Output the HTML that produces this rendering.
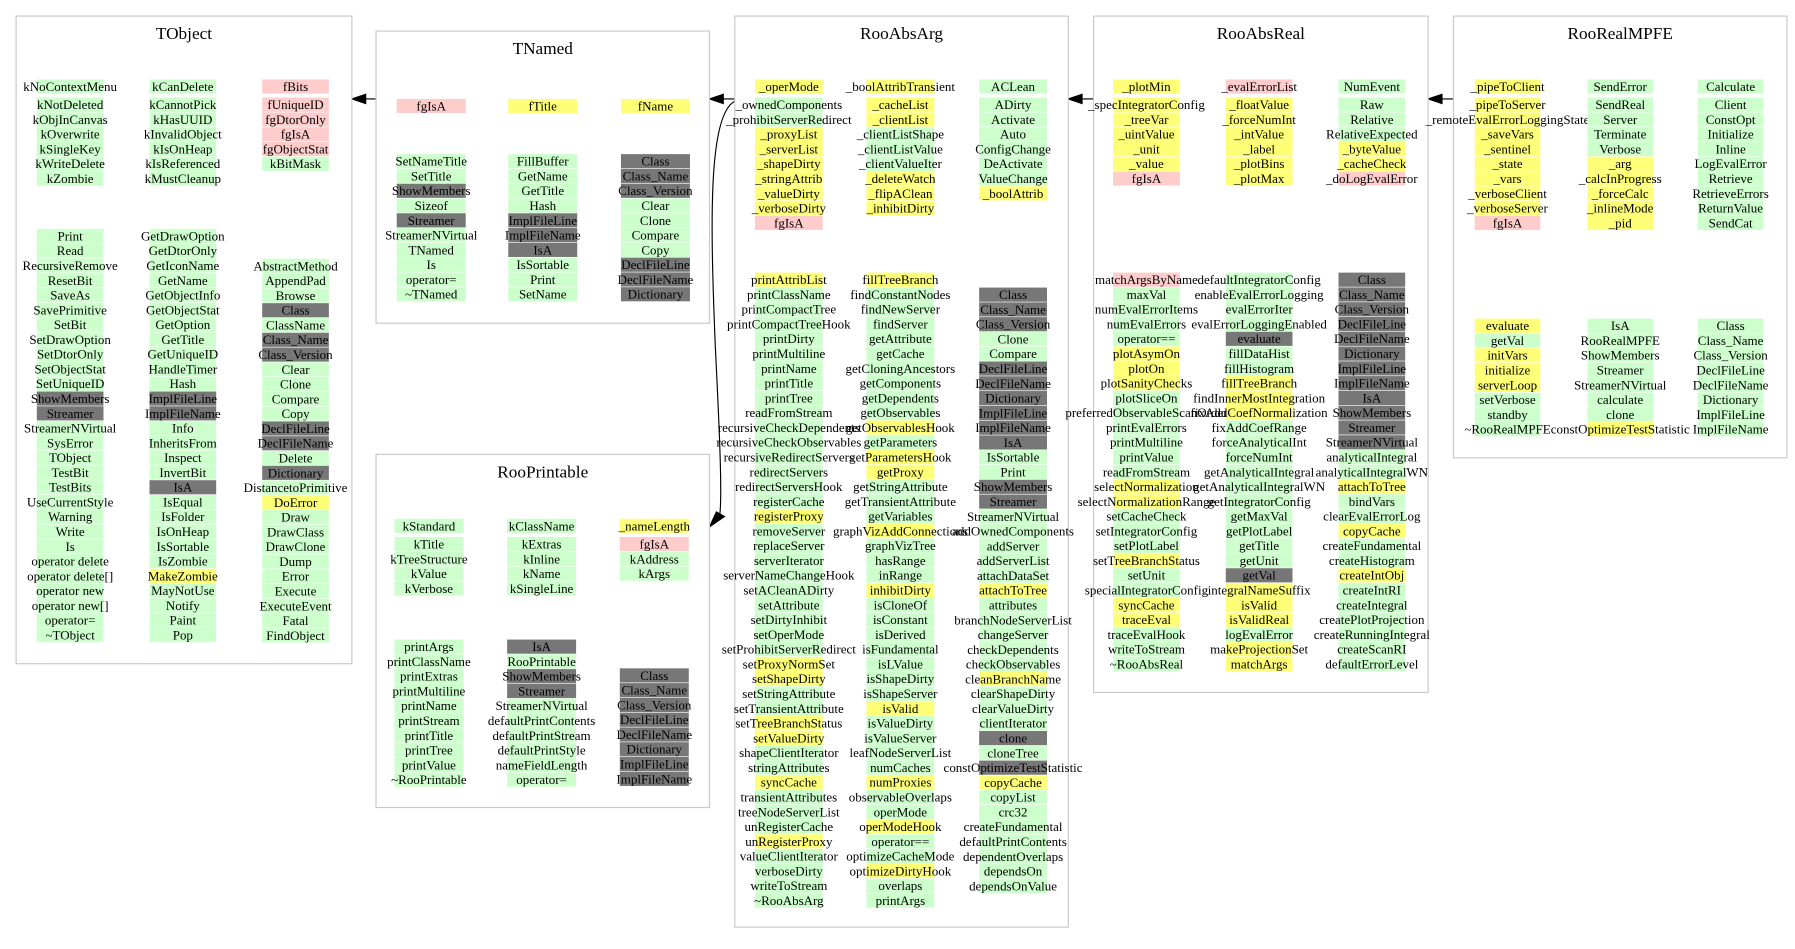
<!DOCTYPE html>
<html><head><meta charset="utf-8">
<style>
html,body{margin:0;padding:0;background:#fff;}
svg{display:block;}
text{font-family:"Liberation Serif",serif;}
</style></head>
<body>
<svg id="chart" width="1795" height="949" viewBox="0 0 1561 825" preserveAspectRatio="none" xmlns="http://www.w3.org/2000/svg">
<g id="arrows" stroke="#000" fill="none" stroke-width="1">
<line x1="327" y1="86" x2="318" y2="86"/>
<polygon points="306,86 318,82 318,90" fill="#000"/>
<line x1="639" y1="86" x2="629" y2="86"/>
<polygon points="617,86 629,82 629,90" fill="#000"/>
<line x1="951" y1="86" x2="941" y2="86"/>
<polygon points="929,86 941,82 941,90" fill="#000"/>
<line x1="1264" y1="86" x2="1254" y2="86"/>
<polygon points="1242,86 1254,82 1254,90" fill="#000"/>
<path d="M639,88 C615,100 618,200 622,300 C626,380 628,430 626,447"/>
<polygon points="617,458 623,445 630,449" fill="#000"/>
</g>
<g id="boxes"></g>
</svg>
<script>
// Class boxes: title, frame and member columns (names with highlight codes)
const boxTitles = ["TObject","TNamed","RooPrintable","RooAbsArg","RooAbsReal","RooRealMPFE"];
const boxFrames = [[14,14,292,563],[327,27,290,254],[327,395,290,307],[639,14,290,792],[951,14,291,588],[1264,14,290,384]];
const cellW = [58,60,60,59,58,57];
const colX = [[61,159,257],[375,472,570],[373,471,569],[686,783,881],[997,1095,1193],[1311,1409,1505]];
const dataY = [75,92,457,75,75,75];
const methY = [205,140,562,243,243,283];
const m3Y = [231,140,587,256,243,283];
const dataCols = [
 [["kNoContextMenu","kNotDeleted","kObjInCanvas","kOverwrite","kSingleKey","kWriteDelete","kZombie"].map(s=>s+"|g"),
  ["kCanDelete","kCannotPick","kHasUUID","kInvalidObject","kIsOnHeap","kIsReferenced","kMustCleanup"].map(s=>s+"|g"),
  ["fBits|p","fUniqueID|p","fgDtorOnly|p","fgIsA|p","fgObjectStat|p","kBitMask|g"]],
 [["fgIsA|p"],["fTitle|y"],["fName|y"]],
 [["kStandard","kTitle","kTreeStructure","kValue","kVerbose"].map(s=>s+"|g"),
  ["kClassName","kExtras","kInline","kName","kSingleLine"].map(s=>s+"|g"),
  ["_nameLength|y","fgIsA|p","kAddress|g","kArgs|g"]],
 [["_operMode|y","_ownedComponents|g","_prohibitServerRedirect|g","_proxyList|y","_serverList|y","_shapeDirty|y","_stringAttrib|y","_valueDirty|y","_verboseDirty|y","fgIsA|p"],
  ["_boolAttribTransient|y","_cacheList|y","_clientList|y","_clientListShape|g","_clientListValue|g","_clientValueIter|g","_deleteWatch|y","_flipAClean|y","_inhibitDirty|y"],
  ["ACLean|g","ADirty|g","Activate|g","Auto|g","ConfigChange|g","DeActivate|g","ValueChange|g","_boolAttrib|y"]],
 [["_plotMin|y","_specIntegratorConfig|y","_treeVar|y","_uintValue|y","_unit|y","_value|y","fgIsA|p"],
  ["_evalErrorList|p","_floatValue|y","_forceNumInt|y","_intValue|y","_label|y","_plotBins|y","_plotMax|y"],
  ["NumEvent|g","Raw|g","Relative|g","RelativeExpected|g","_byteValue|y","_cacheCheck|y","_doLogEvalError|p"]],
 [["_pipeToClient|y","_pipeToServer|y","_remoteEvalErrorLoggingState|y","_saveVars|y","_sentinel|y","_state|y","_vars|y","_verboseClient|y","_verboseServer|y","fgIsA|p"],
  ["SendError|g","SendReal|g","Server|g","Terminate|g","Verbose|g","_arg|y","_calcInProgress|y","_forceCalc|y","_inlineMode|y","_pid|y"],
  ["Calculate","Client","ConstOpt","Initialize","Inline","LogEvalError","Retrieve","RetrieveErrors","ReturnValue","SendCat"].map(s=>s+"|g")]
];
const methCols = [
 [["Print|g","Read|g","RecursiveRemove|g","ResetBit|g","SaveAs|g","SavePrimitive|g","SetBit|g","SetDrawOption|g","SetDtorOnly|g","SetObjectStat|g","SetUniqueID|g","ShowMembers|d","Streamer|d","StreamerNVirtual|g","SysError|g","TObject|g","TestBit|g","TestBits|g","UseCurrentStyle|g","Warning|g","Write|g","Is|g","operator delete|g","operator delete[]|g","operator new|g","operator new[]|g","operator=|g","~TObject|g"],
  ["GetDrawOption|g","GetDtorOnly|g","GetIconName|g","GetName|g","GetObjectInfo|g","GetObjectStat|g","GetOption|g","GetTitle|g","GetUniqueID|g","HandleTimer|g","Hash|g","ImplFileLine|d","ImplFileName|d","Info|g","InheritsFrom|g","Inspect|g","InvertBit|g","IsA|d","IsEqual|g","IsFolder|g","IsOnHeap|g","IsSortable|g","IsZombie|g","MakeZombie|y","MayNotUse|g","Notify|g","Paint|g","Pop|g"],
  ["AbstractMethod|g","AppendPad|g","Browse|g","Class|d","ClassName|g","Class_Name|d","Class_Version|d","Clear|g","Clone|g","Compare|g","Copy|g","DeclFileLine|d","DeclFileName|d","Delete|g","Dictionary|d","DistancetoPrimitive|g","DoError|y","Draw|g","DrawClass|g","DrawClone|g","Dump|g","Error|g","Execute|g","ExecuteEvent|g","Fatal|g","FindObject|g"]],
 [["SetNameTitle|g","SetTitle|g","ShowMembers|d","Sizeof|g","Streamer|d","StreamerNVirtual|g","TNamed|g","Is|g","operator=|g","~TNamed|g"],
  ["FillBuffer|g","GetName|g","GetTitle|g","Hash|g","ImplFileLine|d","ImplFileName|d","IsA|d","IsSortable|g","Print|g","SetName|g"],
  ["Class|d","Class_Name|d","Class_Version|d","Clear|g","Clone|g","Compare|g","Copy|g","DeclFileLine|d","DeclFileName|d","Dictionary|d"]],
 [["printArgs","printClassName","printExtras","printMultiline","printName","printStream","printTitle","printTree","printValue","~RooPrintable"].map(s=>s+"|g"),
  ["IsA|d","RooPrintable|g","ShowMembers|d","Streamer|d","StreamerNVirtual|g","defaultPrintContents|g","defaultPrintStream|g","defaultPrintStyle|g","nameFieldLength|g","operator=|g"],
  ["Class","Class_Name","Class_Version","DeclFileLine","DeclFileName","Dictionary","ImplFileLine","ImplFileName"].map(s=>s+"|d")],
 [["printAttribList|y","printClassName|g","printCompactTree|g","printCompactTreeHook|g","printDirty|g","printMultiline|g","printName|g","printTitle|g","printTree|g","readFromStream|g","recursiveCheckDependents|g","recursiveCheckObservables|g","recursiveRedirectServers|g","redirectServers|g","redirectServersHook|g","registerCache|g","registerProxy|y","removeServer|g","replaceServer|g","serverIterator|g","serverNameChangeHook|g","setACleanADirty|g","setAttribute|g","setDirtyInhibit|g","setOperMode|g","setProhibitServerRedirect|g","setProxyNormSet|y","setShapeDirty|y","setStringAttribute|g","setTransientAttribute|g","setTreeBranchStatus|y","setValueDirty|y","shapeClientIterator|g","stringAttributes|g","syncCache|y","transientAttributes|g","treeNodeServerList|g","unRegisterCache|g","unRegisterProxy|y","valueClientIterator|g","verboseDirty|g","writeToStream|g","~RooAbsArg|g"],
  ["fillTreeBranch|y","findConstantNodes|g","findNewServer|g","findServer|g","getAttribute|g","getCache|g","getCloningAncestors|g","getComponents|g","getDependents|g","getObservables|g","getObservablesHook|y","getParameters|g","getParametersHook|y","getProxy|y","getStringAttribute|g","getTransientAttribute|g","getVariables|g","graphVizAddConnections|y","graphVizTree|g","hasRange|g","inRange|g","inhibitDirty|y","isCloneOf|g","isConstant|g","isDerived|g","isFundamental|g","isLValue|g","isShapeDirty|g","isShapeServer|g","isValid|y","isValueDirty|g","isValueServer|g","leafNodeServerList|g","numCaches|g","numProxies|y","observableOverlaps|g","operMode|g","operModeHook|y","operator==|g","optimizeCacheMode|g","optimizeDirtyHook|y","overlaps|g","printArgs|g"],
  ["Class|d","Class_Name|d","Class_Version|d","Clone|g","Compare|g","DeclFileLine|d","DeclFileName|d","Dictionary|d","ImplFileLine|d","ImplFileName|d","IsA|d","IsSortable|g","Print|g","ShowMembers|d","Streamer|d","StreamerNVirtual|g","addOwnedComponents|g","addServer|g","addServerList|g","attachDataSet|g","attachToTree|y","attributes|g","branchNodeServerList|g","changeServer|g","checkDependents|g","checkObservables|g","cleanBranchName|y","clearShapeDirty|g","clearValueDirty|g","clientIterator|g","clone|d","cloneTree|g","constOptimizeTestStatistic|d","copyCache|y","copyList|g","crc32|g","createFundamental|g","defaultPrintContents|g","dependentOverlaps|g","dependsOn|g","dependsOnValue|g"]],
 [["matchArgsByName|p","maxVal|g","numEvalErrorItems|g","numEvalErrors|g","operator==|g","plotAsymOn|y","plotOn|y","plotSanityChecks|y","plotSliceOn|g","preferredObservableScanOrder|g","printEvalErrors|g","printMultiline|g","printValue|g","readFromStream|g","selectNormalization|y","selectNormalizationRange|y","setCacheCheck|g","setIntegratorConfig|g","setPlotLabel|g","setTreeBranchStatus|y","setUnit|g","specialIntegratorConfig|g","syncCache|y","traceEval|y","traceEvalHook|g","writeToStream|g","~RooAbsReal|g"],
  ["defaultIntegratorConfig|g","enableEvalErrorLogging|g","evalErrorIter|g","evalErrorLoggingEnabled|g","evaluate|d","fillDataHist|g","fillHistogram|g","fillTreeBranch|y","findInnerMostIntegration|y","fixAddCoefNormalization|y","fixAddCoefRange|g","forceAnalyticalInt|g","forceNumInt|g","getAnalyticalIntegral|g","getAnalyticalIntegralWN|g","getIntegratorConfig|g","getMaxVal|g","getPlotLabel|g","getTitle|g","getUnit|g","getVal|d","integralNameSuffix|y","isValid|y","isValidReal|y","logEvalError|g","makeProjectionSet|y","matchArgs|y"],
  ["Class|d","Class_Name|d","Class_Version|d","DeclFileLine|d","DeclFileName|d","Dictionary|d","ImplFileLine|d","ImplFileName|d","IsA|d","ShowMembers|d","Streamer|d","StreamerNVirtual|d","analyticalIntegral|g","analyticalIntegralWN|g","attachToTree|y","bindVars|g","clearEvalErrorLog|g","copyCache|y","createFundamental|g","createHistogram|g","createIntObj|y","createIntRI|g","createIntegral|g","createPlotProjection|g","createRunningIntegral|g","createScanRI|g","defaultErrorLevel|g"]],
 [["evaluate|y","getVal|g","initVars|y","initialize|y","serverLoop|y","setVerbose|g","standby|g","~RooRealMPFE|g"],
  ["IsA","RooRealMPFE","ShowMembers","Streamer","StreamerNVirtual","calculate","clone"].map(s=>s+"|g").concat(["constOptimizeTestStatistic|y"]),
  ["Class","Class_Name","Class_Version","DeclFileLine","DeclFileName","Dictionary","ImplFileLine","ImplFileName"].map(s=>s+"|g")]
];
const colors = {g:"#ccffcc", y:"#ffff77", p:"#ffcccc", d:"#777777", w:"none"};
const PITCH = 12.85;
const NS = "http://www.w3.org/2000/svg";
const root = document.getElementById("boxes");
function kebab(s){return s.replace(/[^A-Za-z0-9]+/g,"-").replace(/^-|-$/g,"").toLowerCase()||"op";}
function drawColumn(g, b, cx, y0, items, gap, kind){
  items.forEach((it, i) => {
    const [name, c] = it.split("|");
    const y = y0 + i*PITCH + (gap && i>0 ? 3 : 0);
    const r = document.createElementNS(NS,"rect");
    r.setAttribute("x", cx - cellW[b]/2);
    r.setAttribute("y", y - 6);
    r.setAttribute("width", cellW[b]);
    r.setAttribute("height", 12.3);
    r.setAttribute("fill", colors[c]);
    
    
    g.appendChild(r);
    const t = document.createElementNS(NS,"text");
    t.setAttribute("x", cx);
    t.setAttribute("y", y + 4);
    t.setAttribute("text-anchor","middle");
    t.setAttribute("font-size","11.3");
    t.setAttribute("fill","#000");
    t.textContent = name;
    
    
    g.appendChild(t);
  });
}
boxTitles.forEach((title, b) => {
  const g = document.createElementNS(NS,"g");
  
  
  const [x,y,w,h] = boxFrames[b];
  const r = document.createElementNS(NS,"rect");
  r.setAttribute("x",x); r.setAttribute("y",y); r.setAttribute("width",w); r.setAttribute("height",h);
  r.setAttribute("fill","#fff"); r.setAttribute("stroke","#c8c8c8"); r.setAttribute("stroke-width","1");
  
  
  g.appendChild(r);
  const t = document.createElementNS(NS,"text");
  t.setAttribute("x", x + w/2); t.setAttribute("y", y + 20);
  t.setAttribute("text-anchor","middle"); t.setAttribute("font-size","15");
  t.textContent = title;
  
  
  g.appendChild(t);
  dataCols[b].forEach((col, k) => drawColumn(g, b, colX[b][k], dataY[b], col, true, 'field'));
  methCols[b].forEach((col, k) => drawColumn(g, b, colX[b][k], k===2 ? m3Y[b] : methY[b], col, false, 'method'));
  root.appendChild(g);
});
</script>
</body></html>
